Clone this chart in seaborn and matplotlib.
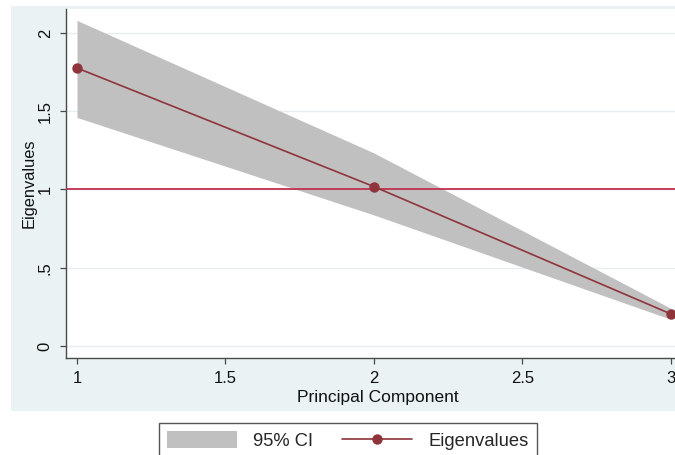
import matplotlib
matplotlib.use("Agg")
import matplotlib.pyplot as plt
from matplotlib.patches import Rectangle, Patch
from matplotlib.lines import Line2D
import seaborn as sns
import pandas as pd

# ---- data ----
components = [1, 2, 3]
eigenvalues = [1.776, 1.018, 0.204]
ci_lower = [1.46, 0.837, 0.17]
ci_upper = [2.08, 1.233, 0.24]
reference_line = 1.0
y_ticks = [0, 0.5, 1, 1.5, 2]
y_tick_labels = ["0", ".5", "1", "1.5", "2"]
x_ticks = [1, 1.5, 2, 2.5, 3]
x_tick_labels = ["1", "1.5", "2", "2.5", "3"]

sns.set_theme(style="white")
plt.rcParams["font.family"] = ["Liberation Sans", "DejaVu Sans"]

W, H = 675, 455
fig = plt.figure(figsize=(W / 100, H / 100), dpi=100)
fig.patch.set_facecolor("white")

# graph region background
bg = Rectangle((11 / W, 1 - 411 / H), 1.0, (411 - 6) / H, transform=fig.transFigure,
               facecolor="#eaf2f3", edgecolor="none", zorder=-10)
fig.patches.append(bg)

left_px, top_px, bottom_px = 66, 9, 358
xmin, xmax = 0.963, 3.06
px_per_x = 297.0
right_px = left_px + (xmax - xmin) * px_per_x
ax = fig.add_axes([left_px / W, 1 - bottom_px / H, (right_px - left_px) / W,
                   (bottom_px - top_px) / H])
ax.set_zorder(1)
ax.set_facecolor("white")

df = pd.DataFrame({"Principal Component": components, "Eigenvalues": eigenvalues})

ax.yaxis.grid(True, color="#e6eef0", linewidth=1.0)
ax.set_axisbelow(True)

ax.fill_between(components, ci_lower, ci_upper, color="#c0c0c0", linewidth=0, zorder=2)
ax.axhline(reference_line, color="#c0304f", linewidth=1.3, zorder=3)
sns.lineplot(data=df, x="Principal Component", y="Eigenvalues", ax=ax, color="#8f343b",
             linewidth=1.2, marker="o", markersize=7.5, markeredgewidth=0, zorder=4,
             legend=False, clip_on=False)

ax.set_xlim(xmin, xmax)
ax.set_ylim(-0.077, 2.153)
ax.set_xticks(x_ticks)
ax.set_xticklabels(x_tick_labels)
ax.set_yticks(y_ticks)
ax.set_yticklabels(y_tick_labels, rotation=90, va="center")

for s in ["top", "right"]:
    ax.spines[s].set_visible(False)
for s in ["left", "bottom"]:
    ax.spines[s].set_color("#4a4a4a")
    ax.spines[s].set_linewidth(1.0)

ax.tick_params(axis="both", which="major", direction="out", length=4.5, width=0.9,
               color="#4a4a4a", labelsize=12, labelcolor="#111111", pad=5,
               bottom=True, left=True)
ax.set_xlabel("Principal Component", fontsize=12.5, color="#111111", labelpad=3)
ax.set_ylabel("Eigenvalues", fontsize=11.8, color="#111111", labelpad=0.5)

handles = [Patch(facecolor="#c0c0c0", edgecolor="none"),
           Line2D([0], [0], color="#8f343b", linewidth=1.2, marker="o", markersize=7.5,
                  markeredgewidth=0)]
leg = fig.legend(handles, ["95% CI", "Eigenvalues"], loc="upper left",
                 bbox_to_anchor=(159 / W, 1 - 423 / H), ncol=2, fontsize=13.2,
                 frameon=True, fancybox=False, edgecolor="#555555", facecolor="white",
                 framealpha=1, handlelength=3.8, handleheight=1.05, handletextpad=0.9,
                 columnspacing=1.55, borderpad=0.45, borderaxespad=0)
leg.get_frame().set_linewidth(1.0)

fig.savefig("out.png", dpi=100)
